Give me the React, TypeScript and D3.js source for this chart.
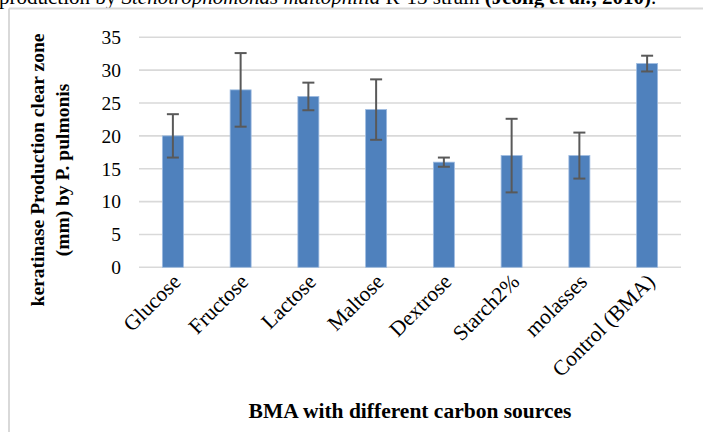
import React from "react";
import * as d3 from "d3";

const categories = ["Glucose", "Fructose", "Lactose", "Maltose", "Dextrose", "Starch2%", "molasses", "Control (BMA)"];
const means = [20, 27, 26, 24, 16, 17, 17, 31];
const errors = [3.3, 5.6, 2.1, 4.6, 0.7, 5.6, 3.5, 1.2];
const yTicks = [0, 5, 10, 15, 20, 25, 30, 35];

const W = 703;
const H = 432;
const plot = { left: 139, right: 681, top: 37.3, bottom: 267.3 };
const serif = "'Liberation Serif', 'Times New Roman', serif";

export default function App() {
  const x = d3
    .scaleBand<string>()
    .domain(categories)
    .range([plot.left, plot.right])
    .paddingInner(0.69)
    .paddingOuter(0.345);
  const y = d3.scaleLinear().domain([0, 35]).range([plot.bottom, plot.top]);
  const bw = x.bandwidth();
  const cap = 6;

  return (
    <svg
      width={W}
      height={H}
      style={{ position: "fixed", left: 0, top: 0, background: "#fff" }}
      fontFamily={serif}
    >
      {/* caption line above the figure frame, partly cropped */}
      <text x={-1} y={4} fontSize={21} fill="#000">
        production by <tspan fontStyle="italic">Stenotrophomonas maltophilia</tspan> R-13 strain{" "}
        <tspan fontWeight="bold">(Jeong <tspan fontStyle="italic">et al.</tspan>, 2010)</tspan>.
      </text>

      {/* frame */}
      <line x1={9} x2={W} y1={8.5} y2={8.5} stroke="#d9d9d9" strokeWidth={2} />
      <line x1={9} x2={9} y1={8.5} y2={H} stroke="#d9d9d9" strokeWidth={2} />

      {/* gridlines and tick labels */}
      {yTicks.map((t) => (
        <g key={t}>
          <line x1={plot.left} x2={plot.right} y1={y(t)} y2={y(t)} stroke="#d9d9d9" strokeWidth={1.6} />
          <text x={121} y={y(t)} dy="0.35em" textAnchor="end" fontSize={19.5}>
            {t}
          </text>
        </g>
      ))}

      {/* bars */}
      {categories.map((c, i) => (
        <rect
          key={c}
          x={x(c)!}
          y={y(means[i])}
          width={bw}
          height={y(0) - y(means[i])}
          fill="#4f81bd"
          stroke="#9dbbe0"
          strokeWidth={0.8}
        />
      ))}

      {/* error bars */}
      {categories.map((c, i) => {
        const cx = x(c)! + bw / 2;
        const hi = y(means[i] + errors[i]);
        const lo = y(means[i] - errors[i]);
        return (
          <g key={c} stroke="#595959" strokeWidth={2}>
            <line x1={cx} x2={cx} y1={hi} y2={lo} />
            <line x1={cx - cap} x2={cx + cap} y1={hi} y2={hi} />
            <line x1={cx - cap} x2={cx + cap} y1={lo} y2={lo} />
          </g>
        );
      })}

      {/* category labels */}
      {categories.map((c) => {
        const cx = x(c)! + bw / 2 + 9;
        const cy = 283;
        return (
          <text
            key={c}
            transform={`translate(${cx},${cy}) rotate(-45)`}
            textAnchor="end"
            fontSize={21.5}
          >
            {c}
          </text>
        );
      })}

      {/* axis titles */}
      <text x={(plot.left + plot.right) / 2} y={418} textAnchor="middle" fontSize={21.5} fontWeight="bold">
        BMA with different carbon sources
      </text>
      <g transform="translate(0,170) rotate(-90)" fontSize={19.5} fontWeight="bold" textAnchor="middle">
        <text x={0} y={44}>keratinase Production clear zone</text>
        <text x={0} y={69}>(mm) by P. pulmonis</text>
      </g>
    </svg>
  );
}
